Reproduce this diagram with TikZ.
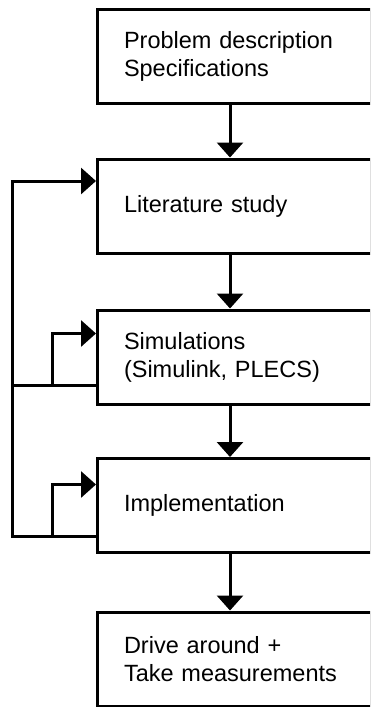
\documentclass[tikz,border=0pt]{standalone}
\usepackage{fontspec}
\setmainfont{Liberation Sans}
\usetikzlibrary{arrows.meta}
\begin{document}
\begin{tikzpicture}[x=1pt,y=-1pt,
  stepbox/.style={draw, line width=3pt, rectangle, minimum width=273.5pt, minimum height=94pt,
    text width=220.5pt, inner xsep=26.5pt, inner ysep=0pt, align=left,
    font=\fontsize{23.5}{28}\selectfont},
  conn/.style={line width=3pt, line join=miter},
  arr/.style={conn, -{Triangle[width=26pt,length=15pt]}}]
\useasboundingbox (0,0) rectangle (370,707);
\clip (0,0) rectangle (370,707);
\fill[white] (0,0) rectangle (370,707);
\node[stepbox] (b1) at (234.25,56) {Problem description\\Specifications};
\node[stepbox] (b2) at (234.25,206) {Literature study};
\node[stepbox] (b3) at (234.25,357) {Simulations\\(Simulink, PLECS)};
\node[stepbox] (b4) at (234.25,505.5) {Implementation};
\node[stepbox] (b5) at (234.25,659) {Drive around +\\Take measurements};
\coordinate (ax) at (230,0);
\draw[arr] (b1.south -| ax) -- (b2.north -| ax);
\draw[arr] (b2.south -| ax) -- (b3.north -| ax);
\draw[arr] (b3.south -| ax) -- (b4.north -| ax);
\draw[arr] (b4.south -| ax) -- (b5.north -| ax);
\coordinate (outer) at (12.5,0);
\coordinate (inner) at (52.5,0);
\coordinate (yb) at (0,536);
\coordinate (ym) at (0,385);
\coordinate (yt) at (0,181);
\coordinate (ys3) at (0,333.5);
\coordinate (ys4) at (0,484.5);
\draw[arr] (b4.west |- yb) -- (outer |- yb) -- (outer |- yt) -- (b2.west |- yt);
\draw[conn] (b3.west |- ym) -- (outer |- ym);
\draw[arr] (inner |- ym) -- (inner |- ys3) -- (b3.west |- ys3);
\draw[arr] (inner |- yb) -- (inner |- ys4) -- (b4.west |- ys4);
\end{tikzpicture}
\end{document}
